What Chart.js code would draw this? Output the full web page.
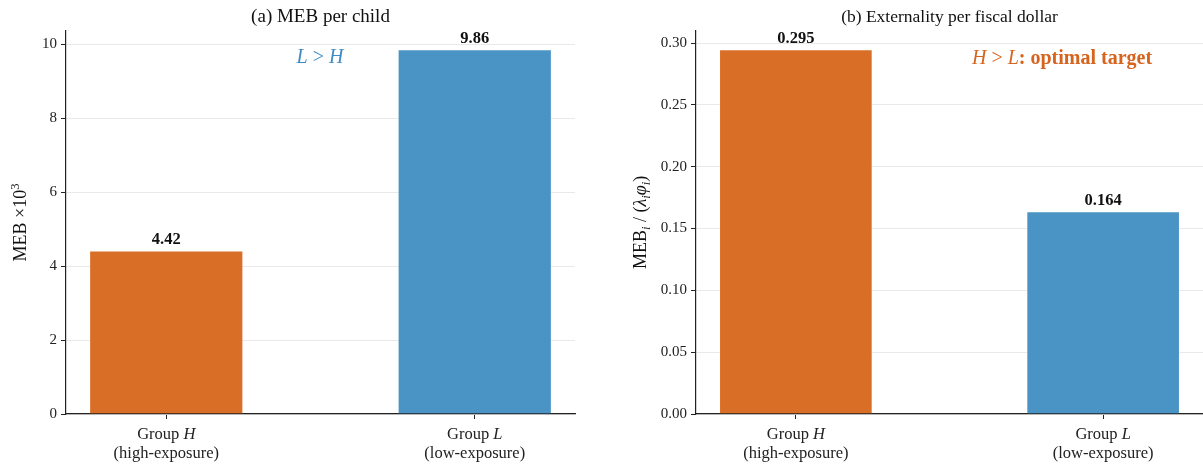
<!DOCTYPE html>
<html>
<head>
<meta charset="utf-8">
<script src="https://cdn.jsdelivr.net/npm/chart.js@4.4.1/dist/chart.umd.min.js"></script>
<style>
  html, body { margin: 0; padding: 0; background: #fff; }
  #wrap { position: relative; width: 1203px; height: 466px; }
  .box { position: absolute; top: 0; height: 466px; }
  #boxA { left: 0; width: 600px; }
  #boxB { left: 600px; width: 603px; }
</style>
</head>
<body>
<div id="wrap">
  <div class="box" id="boxA"><canvas id="chartA"></canvas></div>
  <div class="box" id="boxB"><canvas id="chartB"></canvas></div>
</div>
<script>
// Groups and their values
const groups = ["H", "L"];
const groupDesc = ["(high-exposure)", "(low-exposure)"];
const mebPerChild = [4.42, 9.86];            // MEB x 10^3
const mebPerDollar = [0.295, 0.164];         // MEB_i / (lambda_i phi_i)
const mebLabels = ["4.42", "9.86"];
const dollarLabels = ["0.295", "0.164"];
const ticksA = [0, 2, 4, 6, 8, 10];
const ticksB = [0, 0.05, 0.10, 0.15, 0.20, 0.25, 0.30];

const ORANGE = "rgb(217,110,38)";
const BLUE = "rgb(74,148,197)";
const SERIF = "'Liberation Serif', 'DejaVu Serif', serif";

function fontFor(s, size) {
  const sz = size * (s.scale || 1);
  return (s.italic ? "italic " : "") + (s.bold ? "bold " : "") + sz + "px " + SERIF;
}
function richWidth(ctx, segs, size) {
  let w = 0;
  for (const s of segs) {
    ctx.font = fontFor(s, size);
    w += ctx.measureText(s.t).width;
  }
  return w;
}
// Draw a run of styled text segments (italic, bold, sub/superscript)
function drawRich(ctx, segs, x, y, size, color, align) {
  const w = richWidth(ctx, segs, size);
  let cx = align === "center" ? x - w / 2 : (align === "right" ? x - w : x);
  ctx.fillStyle = color;
  ctx.textBaseline = "alphabetic";
  ctx.textAlign = "left";
  for (const s of segs) {
    ctx.font = fontFor(s, size);
    ctx.fillText(s.t, cx, y + (s.dy || 0));
    cx += ctx.measureText(s.t).width;
  }
}

function makeChart(id, values, labels, yTicks, yMax, fmt, extras) {
  const ctx = document.getElementById(id);
  return new Chart(ctx, {
    type: "bar",
    data: {
      datasets: [{
        data: values.map((v, i) => ({ x: i, y: v })),
        backgroundColor: [ORANGE, BLUE],
        borderColor: "rgba(255,255,255,0.25)",
        borderWidth: 1,
        barPercentage: 0.5,
        categoryPercentage: 1.0
      }]
    },
    options: {
      responsive: true,
      maintainAspectRatio: false,
      animation: false,
      layout: { padding: { top: 31, right: extras.padRight, left: 0, bottom: 0 } },
      plugins: { legend: { display: false }, tooltip: { enabled: false } },
      scales: {
        x: {
          type: "linear",
          min: -0.325, max: 1.325,
          offset: false,
          afterBuildTicks: (s) => { s.ticks = groups.map((g, i) => ({ value: i })); },
          afterFit: (s) => { s.height = 52; },
          ticks: { display: false },
          grid: { offset: false, drawOnChartArea: false, drawTicks: true, tickLength: 5, color: "#222", lineWidth: 1 },
          border: { color: "#222", width: 1.2 }
        },
        y: {
          min: 0, max: yMax,
          afterBuildTicks: (s) => { s.ticks = yTicks.map(v => ({ value: v })); },
          afterFit: (s) => { s.width = extras.yWidth; },
          ticks: {
            color: "#222",
            font: { family: SERIF, size: 15 },
            padding: 4,
            callback: (v) => fmt(v)
          },
          grid: { color: "#e9e9e9", lineWidth: 1, tickLength: 5, tickColor: "#222" },
          border: { color: "#222", width: 1.2 }
        }
      }
    },
    plugins: [{
      id: "texts",
      afterDraw(chart) {
        const c = chart.ctx;
        const area = chart.chartArea;
        const xs = chart.scales.x, ys = chart.scales.y;
        c.save();
        // panel title
        drawRich(c, [{ t: extras.title }], (area.left + area.right) / 2, 22, extras.titleSize, "#111", "center");
        // value labels
        values.forEach((v, i) => {
          drawRich(c, [{ t: labels[i], bold: true }], xs.getPixelForValue(i), ys.getPixelForValue(v) - 6, 16.5, "#111", "center");
        });
        // category labels
        groups.forEach((g, i) => {
          const px = xs.getPixelForValue(i);
          drawRich(c, [{ t: "Group " }, { t: g, italic: true }], px, area.bottom + 25, 16.5, "#222", "center");
          drawRich(c, [{ t: groupDesc[i] }], px, area.bottom + 44, 16.5, "#222", "center");
        });
        // y-axis title
        c.translate(extras.yTitleX, (area.top + area.bottom) / 2);
        c.rotate(-Math.PI / 2);
        drawRich(c, extras.yTitle, 0, 0, 18, "#111", "center");
        c.restore();
        // annotation
        c.save();
        drawRich(c, extras.note, extras.noteX, extras.noteY, 20, extras.noteColor, "center");
        c.restore();
      }
    }]
  });
}

makeChart("chartA", mebPerChild, mebLabels, ticksA, 10.353, (v) => String(v), {
  padRight: 25,
  yWidth: 66,
  title: "(a) MEB per child",
  titleSize: 19,
  yTitleX: 26,
  yTitle: [{ t: "MEB \u00d710" }, { t: "3", scale: 0.7, dy: -7 }],
  note: [{ t: "L", italic: true }, { t: " > " }, { t: "H", italic: true }],
  noteX: 320, noteY: 63, noteColor: "rgb(63,140,196)"
});

makeChart("chartB", mebPerDollar, dollarLabels, ticksB, 0.30975, (v) => v.toFixed(2), {
  padRight: 0,
  yWidth: 96,
  title: "(b) Externality per fiscal dollar",
  titleSize: 17.5,
  yTitleX: 46,
  yTitle: [
    { t: "MEB" }, { t: "i", italic: true, scale: 0.7, dy: 4 },
    { t: " / (" }, { t: "\u03bb", italic: true }, { t: "i", italic: true, scale: 0.7, dy: 4 },
    { t: "\u03c6", italic: true }, { t: "i", italic: true, scale: 0.7, dy: 4 }, { t: ")" }
  ],
  note: [{ t: "H", italic: true }, { t: " > " }, { t: "L", italic: true }, { t: ": optimal target", bold: true }],
  noteX: 462, noteY: 64, noteColor: "rgb(214,100,30)"
});
</script>
</body>
</html>
